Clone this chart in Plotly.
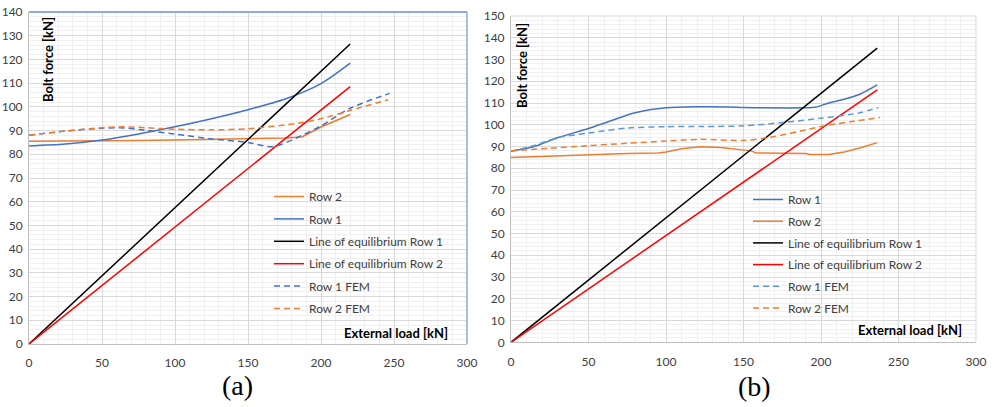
import plotly.graph_objects as go

# ---------------- data: panel (a) ----------------
a_row2_x = [0, 25, 50, 75, 100, 125, 150, 175, 187, 200, 220]
a_row2_y = [85.5, 85.5, 85.6, 85.8, 86.0, 86.2, 86.5, 86.9, 87.3, 91.5, 96.8]

a_row1_x = [0, 25, 50, 75, 100, 125, 150, 175, 200, 220]
a_row1_y = [83.5, 84.3, 86.0, 88.6, 91.6, 95.0, 98.8, 103.2, 109.8, 118.4]

a_eq1_x = [0, 220]
a_eq1_y = [0, 126.5]
a_eq2_x = [0, 220]
a_eq2_y = [0, 108.5]

a_row1fem_x = [0, 25, 50, 62, 75, 100, 125, 150, 167, 187, 200, 220, 247]
a_row1fem_y = [88.0, 89.8, 91.0, 91.2, 90.5, 88.5, 86.5, 85.0, 83.2, 88.0, 92.0, 99.4, 105.7]

a_row2fem_x = [0, 25, 50, 65, 80, 100, 125, 150, 183, 200, 220, 246]
a_row2fem_y = [88.0, 89.8, 91.2, 91.6, 91.2, 90.6, 90.3, 90.8, 93.0, 95.0, 98.5, 103.0]

# ---------------- data: panel (b) ----------------
b_row1_x = [0, 15, 30, 50, 65, 80, 100, 120, 140, 150, 160, 190, 196, 205, 215, 225, 236.3]
b_row1_y = [87.8, 90.0, 94.0, 98.3, 102.0, 105.5, 107.8, 108.3, 108.2, 107.9, 107.8, 107.8, 108.0, 110.0, 111.7, 114.0, 118.3]

b_row2_x = [0, 25, 50, 75, 95, 100, 110, 122, 135, 145, 155, 158, 175, 190, 193, 205, 215, 225, 236.3]
b_row2_y = [85.0, 85.7, 86.4, 86.8, 87.0, 87.5, 89.0, 89.9, 89.6, 88.7, 88.0, 87.0, 86.8, 86.8, 86.3, 86.3, 87.5, 89.3, 91.8]

b_eq1_x = [0, 236.3]
b_eq1_y = [0, 135.2]
b_eq2_x = [0, 236.3]
b_eq2_y = [0, 116.0]

b_row1fem_x = [0, 15, 30, 50, 75, 100, 125, 150, 175, 200, 225, 237]
b_row1fem_y = [87.8, 90.5, 94.0, 96.2, 98.5, 99.1, 99.2, 99.5, 101.0, 103.0, 105.5, 107.9]

b_row2fem_x = [0, 25, 50, 75, 100, 122, 150, 165, 185, 200, 220, 238]
b_row2fem_y = [88.0, 89.2, 90.4, 91.5, 92.5, 93.3, 92.8, 94.0, 96.8, 99.2, 101.5, 103.3]

x_tick_vals = [0, 50, 100, 150, 200, 250, 300]
a_y_ticks = list(range(0, 141, 10))
b_y_ticks = list(range(0, 151, 10))

panel_labels = ["(a)", "(b)"]
y_title = "Bolt force [kN]"
x_title = "External load [kN]"

BLUE = "#4472C4"
BLUE_LIGHT = "#5B9BD5"
ORANGE = "#ED7D31"
RED = "#FF0000"
BLACK = "#000000"
DASH = "6px,4px"
FONT = "Lato"

fig = go.Figure()

def add(x, y, name, color, dash, xa, ya, leg, grp, shape="linear"):
    fig.add_trace(go.Scatter(
        x=x, y=y, mode="lines", name=name,
        line=dict(color=color, width=1.5, dash=dash, shape=shape,
                  smoothing=0.8 if shape == "spline" else None),
        xaxis=xa, yaxis=ya, legend=leg, legendgroup=grp,
    ))

# panel (a) traces (legend order as in the reference)
add(a_row2_x, a_row2_y, "Row 2", ORANGE, "solid", "x", "y", "legend", "a1")
add(a_row1_x, a_row1_y, "Row 1", BLUE, "solid", "x", "y", "legend", "a2", "spline")
add(a_eq1_x, a_eq1_y, "Line of equilibrium Row 1", BLACK, "solid", "x", "y", "legend", "a3")
add(a_eq2_x, a_eq2_y, "Line of equilibrium Row 2", RED, "solid", "x", "y", "legend", "a4")
add(a_row1fem_x, a_row1fem_y, "Row 1 FEM", BLUE, DASH, "x", "y", "legend", "a5", "spline")
add(a_row2fem_x, a_row2fem_y, "Row 2 FEM", ORANGE, DASH, "x", "y", "legend", "a6", "spline")

# panel (b) traces
add(b_row1_x, b_row1_y, "Row 1", BLUE, "solid", "x2", "y2", "legend2", "b1", "spline")
add(b_row2_x, b_row2_y, "Row 2", ORANGE, "solid", "x2", "y2", "legend2", "b2")
add(b_eq1_x, b_eq1_y, "Line of equilibrium Row 1", BLACK, "solid", "x2", "y2", "legend2", "b3")
add(b_eq2_x, b_eq2_y, "Line of equilibrium Row 2", RED, "solid", "x2", "y2", "legend2", "b4")
add(b_row1fem_x, b_row1fem_y, "Row 1 FEM", BLUE_LIGHT, DASH, "x2", "y2", "legend2", "b5", "spline")
add(b_row2fem_x, b_row2fem_y, "Row 2 FEM", ORANGE, DASH, "x2", "y2", "legend2", "b6", "spline")

W, H = 993, 407

def xax(dom, anchor):
    return dict(
        domain=dom, anchor=anchor, range=[0, 300], tickvals=x_tick_vals,
        automargin=False,
        showgrid=True, gridcolor="#D9D9D9", gridwidth=1,
        minor=dict(dtick=10, showgrid=True, gridcolor="#F0F0F0", gridwidth=1),
        showline=True, linecolor="#BFBFBF", linewidth=1, zeroline=False,
        ticks="", ticklabelstandoff=8,
        tickfont=dict(family=FONT, size=12, color="#404040"), fixedrange=True,
    )

def yax(dom, anchor, rng, ticks):
    return dict(
        domain=dom, anchor=anchor, range=rng, tickvals=ticks,
        automargin=False,
        showgrid=True, gridcolor="#D9D9D9", gridwidth=1,
        minor=dict(dtick=2, showgrid=True, gridcolor="#F0F0F0", gridwidth=1),
        showline=True, linecolor="#BFBFBF", linewidth=1, zeroline=False,
        ticks="", ticklabelstandoff=3,
        tickfont=dict(family=FONT, size=12, color="#404040"), fixedrange=True,
    )

ax_dom = [29 / W, 467 / W]
ay_dom = [1 - 344 / H, 1 - 12 / H]
bx_dom = [511 / W, 976 / W]
by_dom = [1 - 342.3 / H, 1 - 16 / H]

fig.update_layout(
    template="none",
    width=W, height=H, margin=dict(l=0, r=0, t=0, b=0, autoexpand=False),
    paper_bgcolor="white", plot_bgcolor="white",
    font=dict(family=FONT, size=12, color="#404040"),
    xaxis=xax(ax_dom, "y"), yaxis=yax(ay_dom, "x", [0, 140], a_y_ticks),
    xaxis2=xax(bx_dom, "y2"), yaxis2=yax(by_dom, "x2", [0, 150], b_y_ticks),
    legend=dict(x=269 / W, y=1 - 182 / H, xanchor="left", yanchor="top",
                bgcolor="rgba(0,0,0,0)", tracegroupgap=3.4, borderwidth=0,
                font=dict(family=FONT, size=12, color="#404040")),
    legend2=dict(x=748 / W, y=1 - 185 / H, xanchor="left", yanchor="top",
                 bgcolor="rgba(0,0,0,0)", tracegroupgap=2.7, borderwidth=0,
                 font=dict(family=FONT, size=12, color="#404040")),
    showlegend=True,
)

# borders on top / right of the plot areas
fig.add_shape(type="line", xref="x domain", yref="y domain", x0=0, x1=1, y0=1, y1=1,
              line=dict(color="#8FAADC", width=2))
fig.add_shape(type="line", xref="x domain", yref="y domain", x0=1, x1=1, y0=0, y1=1,
              line=dict(color="#8FAADC", width=1.5))
fig.add_shape(type="line", xref="x2 domain", yref="y2 domain", x0=0, x1=1, y0=1, y1=1,
              line=dict(color="#D9D9D9", width=1))
fig.add_shape(type="line", xref="x2 domain", yref="y2 domain", x0=1, x1=1, y0=0, y1=1,
              line=dict(color="#D9D9D9", width=1))

def note(text, x, y, size, family, xanchor="center", angle=0):
    fig.add_annotation(text=text, textangle=angle, xref="paper", yref="paper",
                       x=x / W, y=1 - y / H, xanchor=xanchor, yanchor="middle",
                       showarrow=False,
                       font=dict(family=family, size=size, color="#000000"))

# axis titles placed inside the plot areas
note("<b>" + y_title + "</b>", 48, 60, 13, FONT, angle=-90)
note("<b>" + x_title + "</b>", 450, 333, 13, FONT, xanchor="right")
note("<b>" + y_title + "</b>", 522, 66, 13, FONT, angle=-90)
note("<b>" + x_title + "</b>", 964, 330, 13, FONT, xanchor="right")

# panel labels
note(panel_labels[0], 237, 385, 28, "Liberation Serif")
note(panel_labels[1], 754, 386, 28, "Liberation Serif")

fig.write_html("out.html")
